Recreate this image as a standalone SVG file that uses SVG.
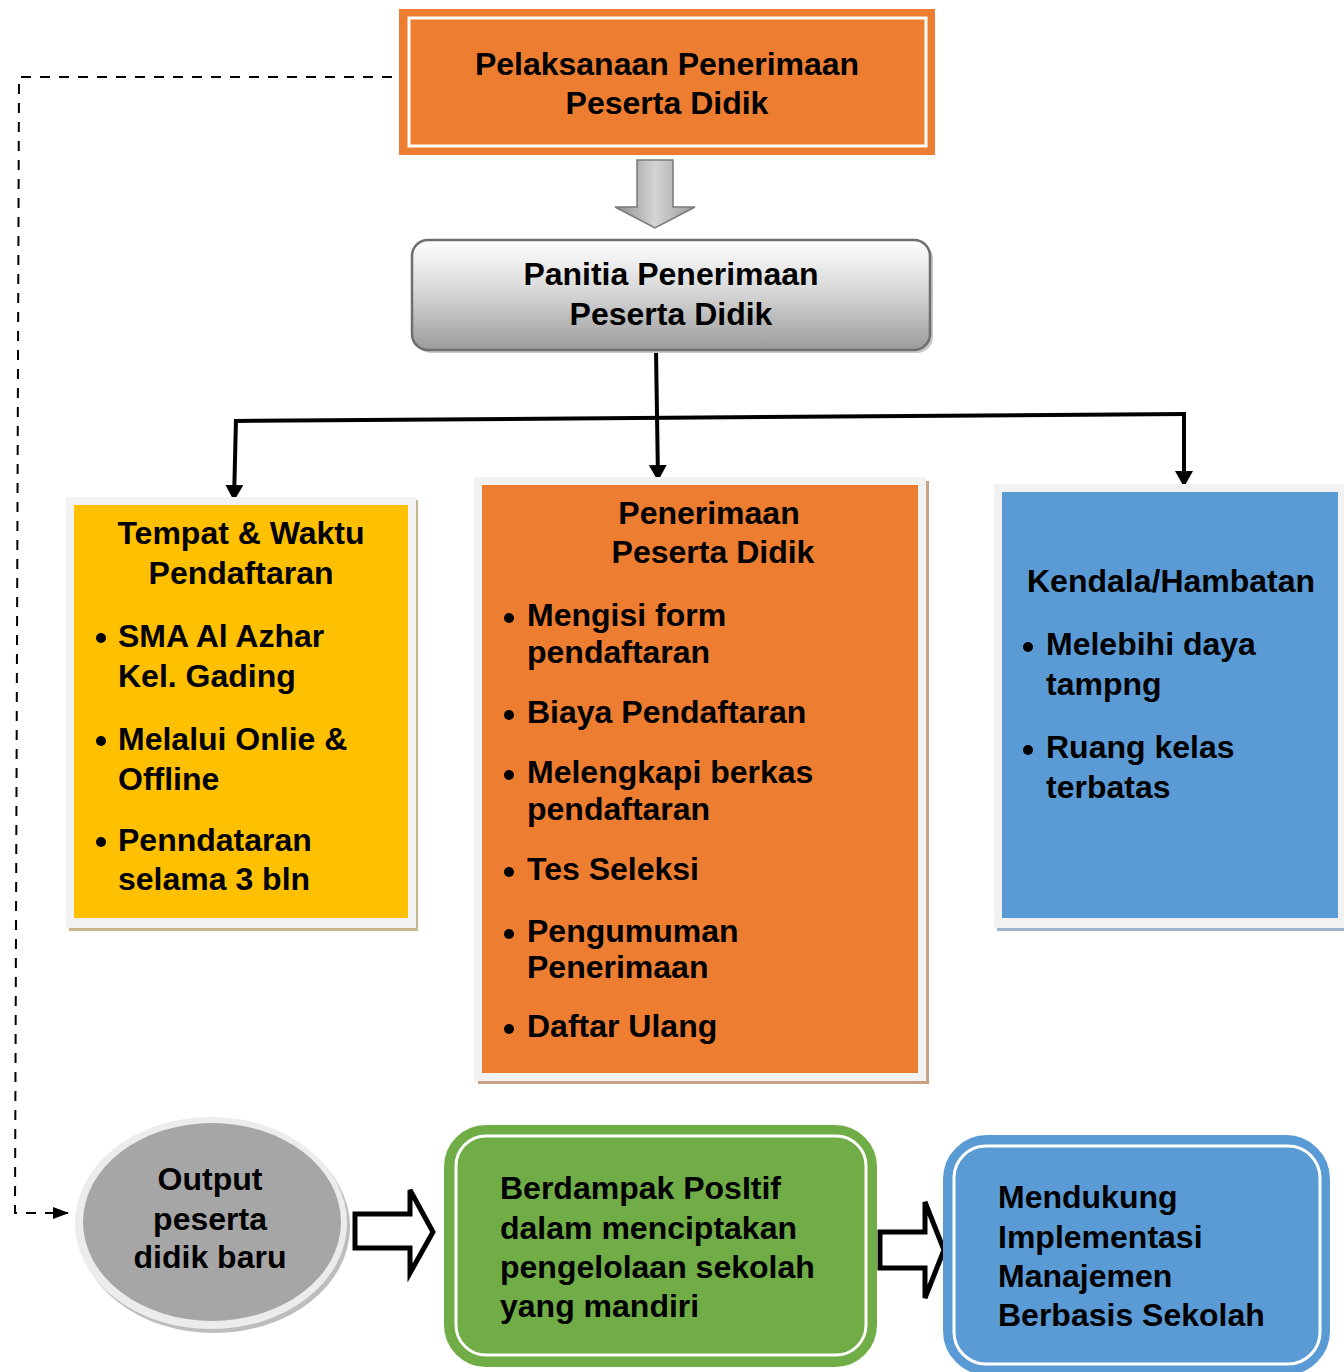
<svg xmlns="http://www.w3.org/2000/svg" width="1344" height="1372" viewBox="0 0 1344 1372">
<defs>
<linearGradient id="gPan" x1="0" y1="0" x2="0" y2="1">
<stop offset="0" stop-color="#ffffff"/>
<stop offset="0.45" stop-color="#d9d9d9"/>
<stop offset="1" stop-color="#9b9b9b"/>
</linearGradient>
<linearGradient id="gArr" x1="0" y1="0" x2="1" y2="0">
<stop offset="0" stop-color="#8c8c8c"/>
<stop offset="0.5" stop-color="#d4d4d4"/>
<stop offset="1" stop-color="#9a9a9a"/>
</linearGradient>
<marker id="ah" viewBox="0 0 16 18" refX="15" refY="9" markerWidth="16" markerHeight="18" markerUnits="userSpaceOnUse" orient="auto">
<path d="M0,0 L16,9 L0,18 Z" fill="#000"/>
</marker>
<marker id="ahs" viewBox="0 0 16 12" refX="15" refY="6" markerWidth="16" markerHeight="12" markerUnits="userSpaceOnUse" orient="auto">
<path d="M0,0 L16,6 L0,12 Z" fill="#000"/>
</marker>
</defs>
<style>
text{font-family:"Liberation Sans",Arial,sans-serif;font-weight:bold;font-size:32px;fill:#000}
.c{text-anchor:middle}
.conn{fill:none;stroke:#000;stroke-width:4}
.dash{fill:none;stroke:#000;stroke-width:2;stroke-dasharray:10 9}
.frame{fill:#f2f2f2}
.blk{fill:#fff;stroke:#000;stroke-width:5;stroke-linejoin:miter}
</style>
<rect width="1344" height="1372" fill="#fff"/>

<g id="connectors">
<path class="dash" d="M392,77 L19,77 L15,1213 L68,1213" marker-end="url(#ahs)"/>
<path class="conn" d="M656,350 L658,480" marker-end="url(#ah)"/>
<path class="conn" d="M234,421 L1186,414"/>
<path class="conn" d="M236,419 L234,500" marker-end="url(#ah)"/>
<path class="conn" d="M1184,412 L1184,486" marker-end="url(#ah)"/>
<path d="M637,160 L673,160 L673,207 L695,207 L655,228 L615,207 L637,207 Z" fill="url(#gArr)" stroke="#7a7a7a" stroke-width="1.5"/>
<path class="blk" d="M355,1214 L410,1214 L410,1190 L433,1232 L410,1273 L410,1248 L355,1248 Z"/>
<path class="blk" d="M880,1232 L925,1232 L925,1202 L944,1250 L925,1298 L925,1268 L880,1268 Z"/>
</g>

<g id="node-pelaksanaan">
<rect x="399" y="9" width="536" height="146" fill="#ed7d31"/>
<rect x="409" y="18" width="517" height="128" fill="none" stroke="#fff" stroke-width="3"/>
<text class="c" x="667" y="75">Pelaksanaan Penerimaan</text>
<text class="c" x="667" y="114">Peserta Didik</text>
</g>

<g id="node-panitia">
<rect x="415" y="243" width="518" height="110" rx="16" fill="#c8c8c8"/>
<rect x="412" y="240" width="518" height="110" rx="16" fill="url(#gPan)" stroke="#6e6e6e" stroke-width="2.5"/>
<text class="c" x="671" y="285">Panitia Penerimaan</text>
<text class="c" x="671" y="325">Peserta Didik</text>
</g>

<g id="node-tempat">
<rect x="69" y="500" width="349" height="431" fill="#c9b68a"/>
<rect class="frame" x="66" y="497" width="350" height="431"/>
<rect x="74" y="505" width="334" height="413" fill="#ffc000"/>
<text class="c" x="241" y="544">Tempat &amp; Waktu</text>
<text class="c" x="241" y="584">Pendaftaran</text>
<circle cx="101" cy="638" r="5"/>
<text x="118" y="647">SMA Al Azhar</text>
<text x="118" y="687">Kel. Gading</text>
<circle cx="101" cy="741" r="5"/>
<text x="118" y="750">Melalui Onlie &amp;</text>
<text x="118" y="790">Offline</text>
<circle cx="101" cy="842" r="5"/>
<text x="118" y="851">Penndataran</text>
<text x="118" y="890">selama 3 bln</text>
</g>

<g id="node-penerimaan">
<rect x="478" y="481" width="451" height="603" fill="#c9a185"/>
<rect class="frame" x="474" y="477" width="452" height="604"/>
<rect x="482" y="485" width="436" height="588" fill="#ed7d31"/>
<text class="c" x="709" y="524">Penerimaan</text>
<text class="c" x="713" y="563">Peserta Didik</text>
<circle cx="509" cy="618" r="5"/>
<text x="527" y="626">Mengisi form</text>
<text x="527" y="663">pendaftaran</text>
<circle cx="509" cy="715" r="5"/>
<text x="527" y="723">Biaya Pendaftaran</text>
<circle cx="509" cy="775" r="5"/>
<text x="527" y="783">Melengkapi berkas</text>
<text x="527" y="820">pendaftaran</text>
<circle cx="509" cy="872" r="5"/>
<text x="527" y="880">Tes Seleksi</text>
<circle cx="509" cy="934" r="5"/>
<text x="527" y="942">Pengumuman</text>
<text x="527" y="978">Penerimaan</text>
<circle cx="509" cy="1029" r="5"/>
<text x="527" y="1037">Daftar Ulang</text>
</g>

<g id="node-kendala">
<rect x="997" y="488" width="350" height="443" fill="#9eb3c9"/>
<rect class="frame" x="994" y="484" width="352" height="444"/>
<rect x="1002" y="492" width="336" height="426" fill="#5b9bd5"/>
<text x="1027" y="592">Kendala/Hambatan</text>
<circle cx="1028" cy="647" r="5"/>
<text x="1046" y="655">Melebihi daya</text>
<text x="1046" y="695">tampng</text>
<circle cx="1028" cy="750" r="5"/>
<text x="1046" y="758">Ruang kelas</text>
<text x="1046" y="798">terbatas</text>
</g>

<g id="node-output">
<ellipse cx="214" cy="1227" rx="136" ry="106" fill="#bdbdbd"/>
<ellipse cx="211" cy="1223" rx="136" ry="106" fill="#ececec"/>
<ellipse cx="212" cy="1222" rx="129" ry="99" fill="#a6a6a6"/>
<text class="c" x="210" y="1190">Output</text>
<text class="c" x="210" y="1230">peserta</text>
<text class="c" x="210" y="1268">didik baru</text>
</g>

<g id="node-berdampak">
<rect x="448" y="1129" width="425" height="234" rx="38" fill="#70ad47" stroke="#70ad47" stroke-width="8"/>
<rect x="456" y="1136" width="410" height="219" rx="30" fill="none" stroke="#fff" stroke-width="3"/>
<text x="500" y="1199">Berdampak PosItif</text>
<text x="500" y="1239">dalam menciptakan</text>
<text x="500" y="1278">pengelolaan sekolah</text>
<text x="500" y="1317">yang mandiri</text>
</g>

<g id="node-mendukung">
<rect x="947" y="1139" width="379" height="232" rx="40" fill="#5b9bd5" stroke="#5b9bd5" stroke-width="8"/>
<rect x="954" y="1146" width="366" height="218" rx="32" fill="none" stroke="#fff" stroke-width="3"/>
<text x="998" y="1208">Mendukung</text>
<text x="998" y="1248">Implementasi</text>
<text x="998" y="1287">Manajemen</text>
<text x="998" y="1326">Berbasis Sekolah</text>
</g>
</svg>
